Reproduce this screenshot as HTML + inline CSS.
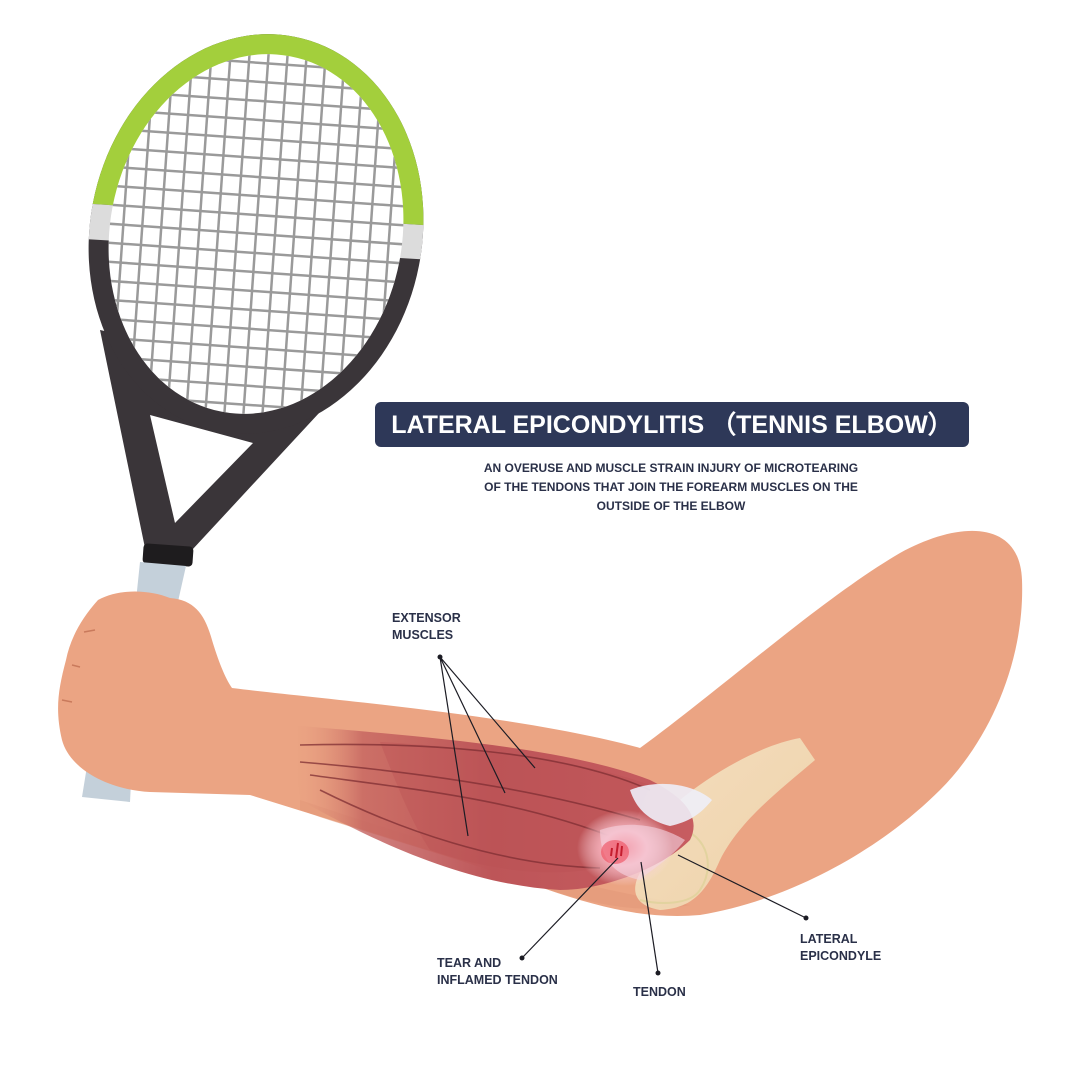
<!DOCTYPE html>
<html><head><meta charset="utf-8"><style>
html,body{margin:0;padding:0;background:#fff}
svg{display:block}
text{font-family:"Liberation Sans",sans-serif;font-weight:bold}
</style></head><body>
<svg width="1080" height="1080" viewBox="0 0 1080 1080" xmlns="http://www.w3.org/2000/svg">
<defs>
<clipPath id="inner"><ellipse cx="256" cy="234" rx="146" ry="181" transform="rotate(11 256 234)"/></clipPath>
<clipPath id="greenc"><polygon points="0,0 500,0 500,230 0,198"/></clipPath>
<clipPath id="grayc"><polygon points="0,198 500,230 500,264 0,234"/></clipPath>
<linearGradient id="musc" x1="0" y1="0" x2="1" y2="0">
<stop offset="0" stop-color="#eba483" stop-opacity="0"/>
<stop offset="0.18" stop-color="#c4625f" stop-opacity="0.8"/>
<stop offset="0.5" stop-color="#bd5558"/>
<stop offset="1" stop-color="#c75c60"/>
</linearGradient>
<radialGradient id="infl" cx="0.5" cy="0.5" r="0.5">
<stop offset="0" stop-color="#ef5a6a"/>
<stop offset="0.45" stop-color="#f6a9b4"/>
<stop offset="1" stop-color="#fbe2ea" stop-opacity="0"/>
</radialGradient>
<linearGradient id="bone" x1="0" y1="0" x2="1" y2="1">
<stop offset="0" stop-color="#f7f0d2"/><stop offset="1" stop-color="#efe2b6"/>
</linearGradient>
</defs>
<rect width="1080" height="1080" fill="#fff"/>

<path d="M100 330 L145 548 L192 550 L345 385 Z M150 415 L253 443 L175 523 Z" fill="#3a3539" fill-rule="evenodd"/>
<g>
 <ellipse cx="256" cy="234" rx="166" ry="201" transform="rotate(11 256 234)" fill="#3a3539"/>
 <g clip-path="url(#greenc)"><ellipse cx="256" cy="234" rx="166" ry="201" transform="rotate(11 256 234)" fill="#a3cf3c"/></g>
 <g clip-path="url(#grayc)"><ellipse cx="256" cy="234" rx="166" ry="201" transform="rotate(11 256 234)" fill="#dcdcdc"/></g>
 <ellipse cx="256" cy="234" rx="146" ry="181" transform="rotate(11 256 234)" fill="#fff"/>
 <g clip-path="url(#inner)" stroke="#9a9a9a" stroke-width="2.5">
  <g transform="translate(256,234) rotate(4)">
  <path d="M-190 -240V240M-171 -240V240M-152 -240V240M-133 -240V240M-114 -240V240M-95 -240V240M-76 -240V240M-57 -240V240M-38 -240V240M-19 -240V240M0 -240V240M19 -240V240M38 -240V240M57 -240V240M76 -240V240M95 -240V240M114 -240V240M133 -240V240M152 -240V240M171 -240V240M190 -240V240"/>
  <path d="M-240 -228H240M-240 -209H240M-240 -190H240M-240 -171H240M-240 -152H240M-240 -133H240M-240 -114H240M-240 -95H240M-240 -76H240M-240 -57H240M-240 -38H240M-240 -19H240M-240 0H240M-240 19H240M-240 38H240M-240 57H240M-240 76H240M-240 95H240M-240 114H240M-240 133H240M-240 152H240M-240 171H240M-240 190H240M-240 209H240M-240 228H240"/>
  </g>
 </g>
</g>
<rect x="143" y="545" width="50" height="20" rx="4" fill="#1e1c1e" transform="rotate(4 168 555)"/>
<path d="M140 562 L186 566 L175 615 L135 610 Z" fill="#c4d0da"/>
<path d="M88 760 L132 762 L130 802 L82 797 Z" fill="#c4d0da"/>

<path d="M232 688 C330 700 520 715 640 748 C720 690 820 600 900 553 C960 520 1020 520 1022 580 C1025 660 990 740 940 790 C880 850 790 900 700 915 C640 920 590 905 520 880 C430 850 330 820 250 795 L150 792 C110 790 70 770 62 740 C55 710 58 690 66 660 C70 640 80 620 98 600 C120 588 150 590 170 598 C195 600 205 615 212 640 C218 660 225 678 232 688 Z" fill="#eba483"/>
<path d="M84 632 L95 630 M72 665 L80 667 M62 700 L72 702" stroke="#c97a5c" stroke-width="1.5" fill="none"/>
<path d="M300 800 C420 840 560 885 690 905 C640 915 590 905 520 880 C430 850 340 825 300 810 Z" fill="#e29a7a" opacity="0.6"/>

<path d="M680 800 C710 775 760 745 800 738 L815 760 C780 790 740 820 720 860 C705 895 690 908 660 910 C630 905 630 885 645 865 C660 845 670 820 680 800 Z" fill="url(#bone)" opacity="0.75"/>
<path d="M660 830 C700 820 720 860 700 890 C690 905 660 905 640 900" fill="none" stroke="#e2d39f" stroke-width="2"/>

<path d="M290 725 C400 735 560 745 650 780 C690 800 700 820 690 840 C660 870 600 890 560 890 C470 885 380 845 300 800 Z" fill="url(#musc)"/>
<path d="M380 742 C480 748 580 760 650 785 L620 860 C580 880 500 875 430 850 C410 820 395 780 380 742 Z" fill="#b94f53" opacity="0.35"/>
<g fill="none" stroke="#7f2e33" stroke-width="1.6" opacity="0.75">
<path d="M300 745 C420 742 560 750 650 790"/>
<path d="M300 762 C420 772 540 790 640 820"/>
<path d="M310 775 C420 790 520 800 620 840"/>
<path d="M320 790 C400 830 500 865 600 868"/>
</g>
<path d="M630 790 C660 778 695 785 712 800 C700 815 688 822 670 826 C645 820 635 805 630 790 Z" fill="#eeeef8" opacity="0.9"/>
<ellipse cx="625" cy="848" rx="48" ry="38" fill="url(#infl)"/>
<path d="M600 830 C630 820 660 825 685 840 C670 860 650 870 640 880 C615 875 600 860 600 830 Z" fill="#f5d6e2" opacity="0.6"/>
<ellipse cx="615" cy="852" rx="14" ry="12" fill="#ee4b5c" opacity="0.6"/>
<path d="M618 843 L616 858 M612 848 L611 856 M622 846 L621 856" stroke="#c41d2e" stroke-width="2"/>

<rect x="375" y="402" width="594" height="45" rx="6" fill="#2e3858"/>
<text x="672" y="433" font-size="25" fill="#fff" text-anchor="middle">LATERAL EPICONDYLITIS （TENNIS ELBOW）</text>
<g font-size="12" fill="#2a3048" text-anchor="middle">
<text x="671" y="472">AN OVERUSE AND MUSCLE STRAIN INJURY OF MICROTEARING</text>
<text x="671" y="491">OF THE TENDONS THAT JOIN THE FOREARM MUSCLES ON THE</text>
<text x="671" y="510">OUTSIDE OF THE ELBOW</text>
</g>

<g font-size="12.5" fill="#2a3048">
<text x="392" y="622">EXTENSOR</text>
<text x="392" y="639">MUSCLES</text>
<text x="437" y="967">TEAR AND</text>
<text x="437" y="984">INFLAMED TENDON</text>
<text x="633" y="996">TENDON</text>
<text x="800" y="943">LATERAL</text>
<text x="800" y="960">EPICONDYLE</text>
</g>
<g stroke="#1c1c24" stroke-width="1.2" fill="none">
<path d="M440 657 L468 836 M440 657 L505 793 M440 657 L535 768"/>
<path d="M522 958 L618 858"/>
<path d="M641 862 L658 973"/>
<path d="M678 855 L806 918"/>
</g>
<g fill="#1c1c24">
<circle cx="440" cy="657" r="2.5"/><circle cx="522" cy="958" r="2.5"/><circle cx="658" cy="973" r="2.5"/><circle cx="806" cy="918" r="2.5"/>
</g>
</svg>
</body></html>
